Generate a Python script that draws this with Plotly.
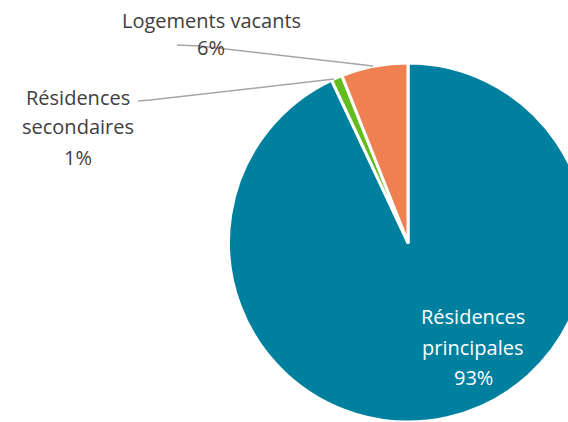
import plotly.graph_objects as go

# Housing stock breakdown
categories = ["Résidences principales", "Résidences secondaires", "Logements vacants"]
shares = [93, 1, 6]
colors = ["#00809F", "#62BC1E", "#EE8052"]

W, H = 600, 422          # paper is wider than the window; the right edge of the pie is clipped
FONT = "Open Sans"
FS = 20
GREY = "#404040"


def px(x):
    return x / W


def py(y):
    return 1 - y / H


fig = go.Figure(go.Pie(
    labels=categories,
    values=shares,
    sort=False,
    direction="clockwise",
    rotation=0,
    marker=dict(colors=colors, line=dict(color="white", width=3)),
    textinfo="none",
    hoverinfo="label+percent",
    showlegend=False,
    domain=dict(x=[px(228), px(588)], y=[0, py(63)]),
))

# Label lines: (text, x, y, colour)
label_lines = [
    ("Logements vacants", 211, 20, GREY),
    (f"{shares[2]}%", 211, 48, GREY),
    ("Résidences", 78, 97, GREY),
    ("secondaires", 78, 127, GREY),
    (f"{shares[1]}%", 78, 157, GREY),
    ("Résidences", 473, 316, "white"),
    ("principales", 473, 347, "white"),
    (f"{shares[0]}%", 473, 377, "white"),
]
annotations = [
    dict(text=t, x=px(x), y=py(y), xref="paper", yref="paper",
         showarrow=False, xanchor="center", yanchor="middle",
         font=dict(family=FONT, size=FS, color=c))
    for t, x, y, c in label_lines
]

# Leader lines from labels to slices
leaders = [
    [(177, 45), (200, 46), (373, 66)],
    [(138, 101), (150, 100), (334, 79)],
]
shapes = []
for pts in leaders:
    path = "M " + " L ".join(f"{px(x)},{py(y)}" for x, y in pts)
    shapes.append(dict(type="path", path=path, xref="paper", yref="paper",
                       line=dict(color="#A6A6A6", width=1.5)))

fig.update_layout(
    width=W, height=H,
    margin=dict(l=0, r=0, t=0, b=0),
    paper_bgcolor="white",
    plot_bgcolor="white",
    annotations=annotations,
    shapes=shapes,
)

fig.write_html(
    "out.html",
    post_script="document.body.style.margin='0';document.body.style.overflow='hidden';"
                "document.documentElement.style.overflow='hidden';",
)
